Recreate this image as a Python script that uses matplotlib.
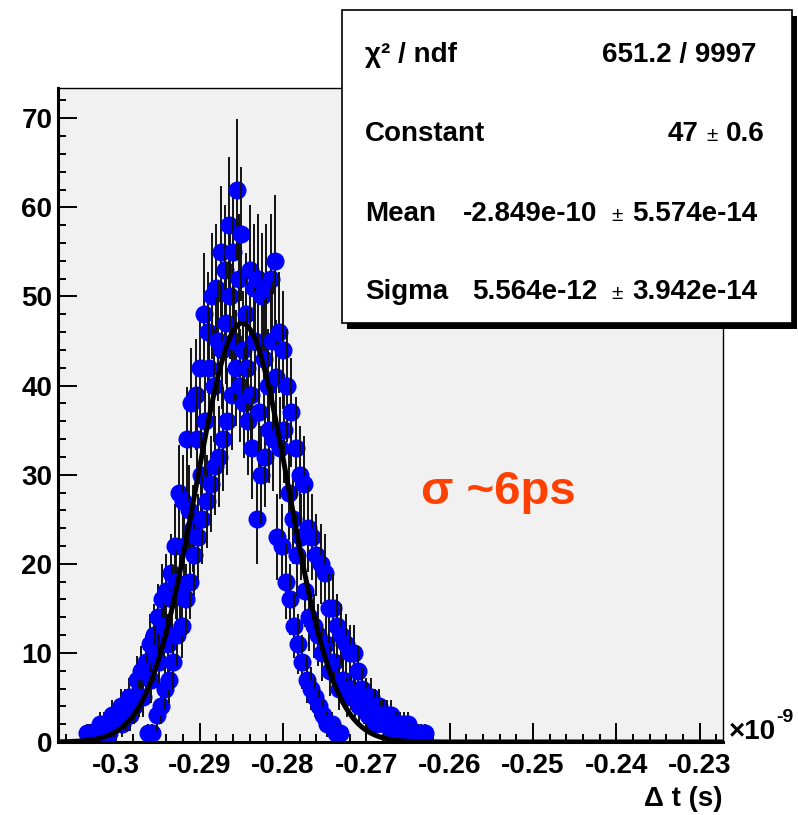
import numpy as np
import matplotlib
matplotlib.use('Agg')
import matplotlib.pyplot as plt
from matplotlib.patches import Rectangle
from matplotlib.ticker import MultipleLocator

plt.rcParams['font.family'] = ['Liberation Sans', 'DejaVu Sans']

# ---- histogram contents (x in units of 1e-9 s) ----
# the bins fall into three interleaved bands (high / middle / low)
bin_step = 0.0005
first_bin = -0.3035
counts_high = [1, 1, 1, 2, 2, 2, 3, 3, 4, 4,
               5, 5, 7, 8, 9, 11, 12, 14, 16, 17,
               19, 22, 28, 27, 34, 38, 39, 42, 48, 46,
               50, 51, 55, 53, 58, 55, 62, 57, 48, 53,
               51, 52, 50, 51, 52, 54, 46, 44, 40, 37,
               33, 30, 29, 24, 23, 21, 20, 19, 15, 15,
               13, 12, 11, 10, 10, 8, 6, 5, 5, 4,
               4, 3, 3, 3, 2, 2, 2, 2, 1, 1,
               1, 1, 0]
counts_mid = [1, 0, 1, 1, 2, 1, 2, 3, 2, 3,
              3, 4, 5, 5, 8, 7, 10, 9, 13, 11,
              16, 18, 17, 22, 26, 24, 34, 30, 36, 42,
              40, 45, 44, 47, 50, 45, 52, 44, 42, 39,
              45, 37, 43, 40, 45, 41, 33, 35, 28, 25,
              21, 23, 17, 14, 13, 12, 10, 11, 8, 9,
              6, 7, 5, 6, 5, 4, 4, 3, 3, 2,
              3, 2, 2, 1, 2, 1, 1, 1, 0, 1,
              0, 0, 0]
counts_low = [0, 0, 0, 0, 0, 0, 0, 0, 0, 0,
              0, 0, 0, 0, 1, 1, 3, 4, 6, 7,
              9, 12, 13, 16, 18, 21, 23, 25, 27, 29,
              31, 32, 34, 36, 39, 42, 40, 38, 36, 33,
              25, 30, 32, 35, 34, 23, 22, 18, 16, 13,
              11, 9, 7, 6, 5, 4, 3, 2, 2, 1,
              1, 0, 0, 0, 0, 0, 0, 0, 0, 0,
              0, 0, 0, 0, 0, 0, 0, 0, 0, 0,
              0, 0, 0]

# gaussian fit result (stats box)
fit_const = 47.0
fit_mean = -0.2849
fit_sigma = 0.005564

x_ticks = [-0.3, -0.29, -0.28, -0.27, -0.26, -0.25, -0.24, -0.23]
x_ticklabels = ['-0.3', '-0.29', '-0.28', '-0.27', '-0.26', '-0.25', '-0.24', '-0.23']
y_ticks = [0, 10, 20, 30, 40, 50, 60, 70]

stats_names = ['Constant', 'Mean', 'Sigma']
stats_values = ['47', '-2.849e-10', '5.564e-12']
stats_errors = ['0.6', '5.574e-14', '3.942e-14']
chi2_text = '651.2 / 9997'

W, H = 798, 815


def fx(px):
    return px / W


def fy(py):
    return 1 - py / H


# interleave the three bands into one list of bins
bands = [counts_high, counts_mid, counts_low]
counts = np.array(bands).T.ravel()
xs = first_bin + (bin_step / 3) * np.arange(len(counts))

fig = plt.figure(figsize=(W / 100, H / 100), dpi=100)
ax = fig.add_axes([fx(58), fy(742), fx(723) - fx(58), fy(88) - fy(742)])
ax.set_facecolor('#f1f1f1')
ax.set_xlim(-0.3070, -0.2272)
ax.set_ylim(0, 73.4)

# bins drawn left to right: error bar then marker
for i, (x, c) in enumerate(zip(xs, counts)):
    if c <= 0:
        continue
    e = np.sqrt(c)
    ax.plot([x, x], [c - e, c + e], color='#111111', lw=1.4,
            solid_capstyle='butt', zorder=2 + i * 1e-3)
    ax.plot([x], [c], 'o', color='#0000ff', ms=13, mec='none',
            zorder=2 + i * 1e-3 + 5e-4)

# fit function
xf = np.linspace(-0.3070, -0.2272, 800)
yf = fit_const * np.exp(-0.5 * ((xf - fit_mean) / fit_sigma) ** 2)
ax.plot(xf, yf, color='black', lw=3.6, zorder=5)

for s in ['left', 'bottom']:
    ax.spines[s].set_linewidth(2.2)
for s in ['top', 'right']:
    ax.spines[s].set_linewidth(1.0)

ax.set_xticks(x_ticks)
ax.set_xticklabels(x_ticklabels)
ax.set_yticks(y_ticks)
ax.xaxis.set_minor_locator(MultipleLocator(0.002))
ax.yaxis.set_minor_locator(MultipleLocator(2))
ax.tick_params(which='both', direction='in', top=False, right=False, width=1.4)
ax.tick_params(which='major', length=14)
ax.tick_params(which='minor', length=6)
ax.tick_params(axis='x', pad=8)
ax.tick_params(axis='y', pad=4)
for lab in ax.get_xticklabels() + ax.get_yticklabels():
    lab.set_fontsize(20)
    lab.set_fontweight('bold')

fig.text(fx(722), fy(806), 'Δ t (s)', ha='right', va='baseline',
         fontsize=20, fontweight='bold')
fig.text(fx(729), fy(739), '×10', ha='left', va='baseline',
         fontsize=20, fontweight='bold')
fig.text(fx(776), fy(722), '-9', ha='left', va='baseline',
         fontsize=14, fontweight='bold')

# stats box with shadow
fig.add_artist(Rectangle((fx(347), fy(329)), fx(792) - fx(342), (323 - 10) / H,
                         transform=fig.transFigure, facecolor='black',
                         edgecolor='none', zorder=20))
fig.add_artist(Rectangle((fx(342), fy(323)), fx(792) - fx(342), (323 - 10) / H,
                         transform=fig.transFigure, facecolor='white',
                         edgecolor='black', lw=1.2, zorder=21))

fig.text(fx(365), fy(62), 'χ² / ndf', ha='left', va='baseline',
         fontsize=20, fontweight='bold', zorder=22)
fig.text(fx(757), fy(62), chi2_text, ha='right', va='baseline',
         fontsize=20, fontweight='bold', zorder=22)

row_base = [141, 221, 299]
value_right = [698, 597, 597]
pm_left = [706, 611, 611]
err_right = [765, 757, 757]
for name, val, err, yb, vr, pl, er in zip(stats_names, stats_values, stats_errors,
                                          row_base, value_right, pm_left, err_right):
    fig.text(fx(365), fy(yb), name, ha='left', va='baseline',
             fontsize=20, fontweight='bold', zorder=22)
    fig.text(fx(vr), fy(yb), val, ha='right', va='baseline',
             fontsize=20, fontweight='bold', zorder=22)
    fig.text(fx(pl), fy(yb), '±', ha='left', va='baseline',
             fontsize=15, zorder=22)
    fig.text(fx(er), fy(yb), err, ha='right', va='baseline',
             fontsize=20, fontweight='bold', zorder=22)

fig.text(fx(498), fy(504), 'σ ~6ps', ha='center', va='baseline',
         fontsize=34, fontweight='bold', color='#ff4000', zorder=22)

fig.savefig('out.png', dpi=100)
